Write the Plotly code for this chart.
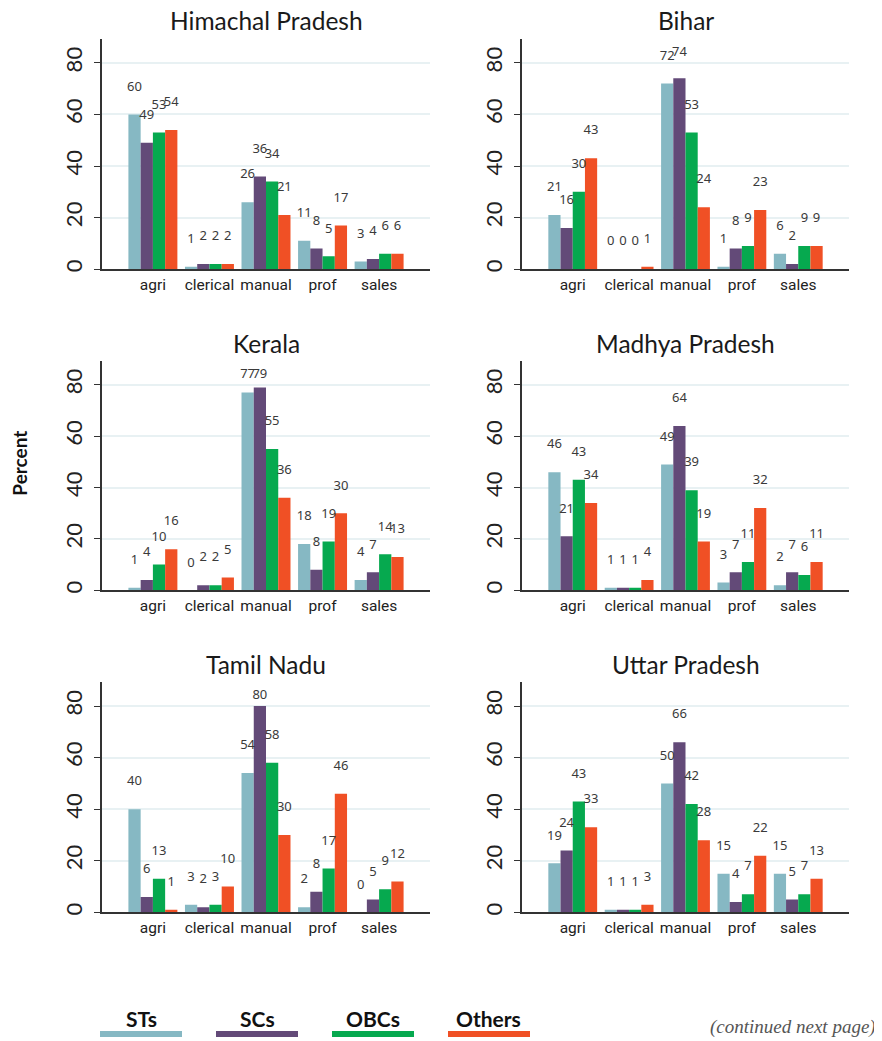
import plotly.graph_objects as go

categories = ["agri", "clerical", "manual", "prof", "sales"]
groups = ["STs", "SCs", "OBCs", "Others"]
colors = ["#86b8c3", "#634a78", "#06a94f", "#f05025"]
states = ["Himachal Pradesh", "Bihar", "Kerala", "Madhya Pradesh", "Tamil Nadu", "Uttar Pradesh"]

# values per state: one list per group (STs, SCs, OBCs, Others) over categories
himachal = [[60, 1, 26, 11, 3], [49, 2, 36, 8, 4], [53, 2, 34, 5, 6], [54, 2, 21, 17, 6]]
bihar = [[21, 0, 72, 1, 6], [16, 0, 74, 8, 2], [30, 0, 53, 9, 9], [43, 1, 24, 23, 9]]
kerala = [[1, 0, 77, 18, 4], [4, 2, 79, 8, 7], [10, 2, 55, 19, 14], [16, 5, 36, 30, 13]]
madhya = [[46, 1, 49, 3, 2], [21, 1, 64, 7, 7], [43, 1, 39, 11, 6], [34, 4, 19, 32, 11]]
tamil = [[40, 3, 54, 2, 0], [6, 2, 80, 8, 5], [13, 3, 58, 17, 9], [1, 10, 30, 46, 12]]
uttar = [[19, 1, 50, 15, 15], [24, 1, 66, 4, 5], [43, 1, 42, 7, 7], [33, 3, 28, 22, 13]]
state_data = [himachal, bihar, kerala, madhya, tamil, uttar]

OFF = 8  # page body margin
W, H = 882 - OFF, 1041 - OFF
col_px = [(102, 430), (522, 849)]
row_px = [(39, 270), (362, 592), (684, 915)]
YMAX = 89.3
BARGAP = 0.134
bar_w = (1 - BARGAP) / len(groups)

def px(x):
    return (x - OFF) / W

def py(y):
    return 1 - (y - OFF) / H

fig = go.Figure()
annotations = []
layout = {}
xs = list(range(len(categories)))

for k, (state, data) in enumerate(zip(states, state_data)):
    r, c = divmod(k, 2)
    sfx = "" if k == 0 else str(k + 1)
    xa, ya = "x" + sfx, "y" + sfx
    for j, (g, vals) in enumerate(zip(groups, data)):
        fig.add_trace(go.Bar(x=xs, y=vals, name=g, marker=dict(color=colors[j], line=dict(width=0)),
                             xaxis=xa, yaxis=ya, showlegend=False, hoverinfo="skip",
                             offsetgroup=str(j)))
    for j, vals in enumerate(data):
        fig.add_trace(go.Scatter(
            x=[i + (j - 1.5) * bar_w for i in xs],
            y=[min(v + 10.5, 84) for v in vals],
            text=[str(int(v)) for v in vals], mode="text",
            textfont=dict(family="Noto Sans, Liberation Sans, sans-serif", size=13, color="#3a3a3a"),
            textposition="middle center", xaxis=xa, yaxis=ya, showlegend=False,
            hoverinfo="skip", cliponaxis=False))
    x0, x1 = col_px[c]
    y0, y1 = row_px[r]
    layout["xaxis" + sfx] = dict(
        domain=[px(x0), px(x1)], anchor=ya, range=[-0.9, 4.9],
        tickvals=xs, ticktext=categories, ticks="", showline=True, tickangle=0,
        linecolor="#333333", linewidth=1.5, showgrid=False, zeroline=False,
        tickfont=dict(family="Roboto, sans-serif", size=15.5, color="#222222"),
        fixedrange=True)
    layout["yaxis" + sfx] = dict(
        domain=[py(y1), py(y0)], anchor=xa, range=[0, YMAX],
        tickvals=[0, 20, 40, 60, 80], tickangle=-90, ticks="outside", ticklen=6,
        tickcolor="#333333", tickwidth=1.2, showline=True, linecolor="#333333", linewidth=1.5,
        showgrid=True, gridcolor="#e8f1f3", gridwidth=1.5, zeroline=False,
        tickfont=dict(family="Lato, sans-serif", size=22, color="#222222"),
        ticklabelstandoff=3, fixedrange=True)
    annotations.append(dict(
        text=state, x=(px(x0) + px(x1)) / 2, y=py(y0 - 18), xref="paper", yref="paper",
        xanchor="center", yanchor="middle", showarrow=False, borderpad=0,
        font=dict(family="Lato, sans-serif", size=24.5, color="#1a1a1a")))

annotations.append(dict(
    text="<b>Percent</b>", x=px(20), y=py(465), xref="paper", yref="paper",
    xanchor="center", yanchor="middle", textangle=-90, showarrow=False, borderpad=0,
    font=dict(family="Lato, sans-serif", size=19, color="#111111")))

shapes = []
for j, g in enumerate(groups):
    lx0 = 100 + j * 116
    lx1 = lx0 + 82
    shapes.append(dict(type="line", xref="paper", yref="paper",
                       x0=px(lx0), x1=px(lx1), y0=py(1037), y1=py(1037),
                       line=dict(color=colors[j], width=6)))
    annotations.append(dict(
        text="<b>%s</b>" % g, x=px((lx0 + lx1) / 2), y=py(1021), xref="paper", yref="paper",
        xanchor="center", yanchor="middle", showarrow=False,
        font=dict(family="Lato, sans-serif", size=21, color="#111111")))

annotations.append(dict(
    text="<i>(continued next page)</i>", x=px(878), y=py(1030), xref="paper", yref="paper",
    xanchor="right", yanchor="middle", showarrow=False,
    font=dict(family="Liberation Serif, serif", size=19, color="#555555")))

fig.update_layout(
    width=W, height=H, margin=dict(l=0, r=0, t=0, b=0),
    paper_bgcolor="white", plot_bgcolor="white",
    barmode="group", bargap=BARGAP, bargroupgap=0,
    annotations=annotations, shapes=shapes, showlegend=False, **layout)

fig.write_html("out.html")
